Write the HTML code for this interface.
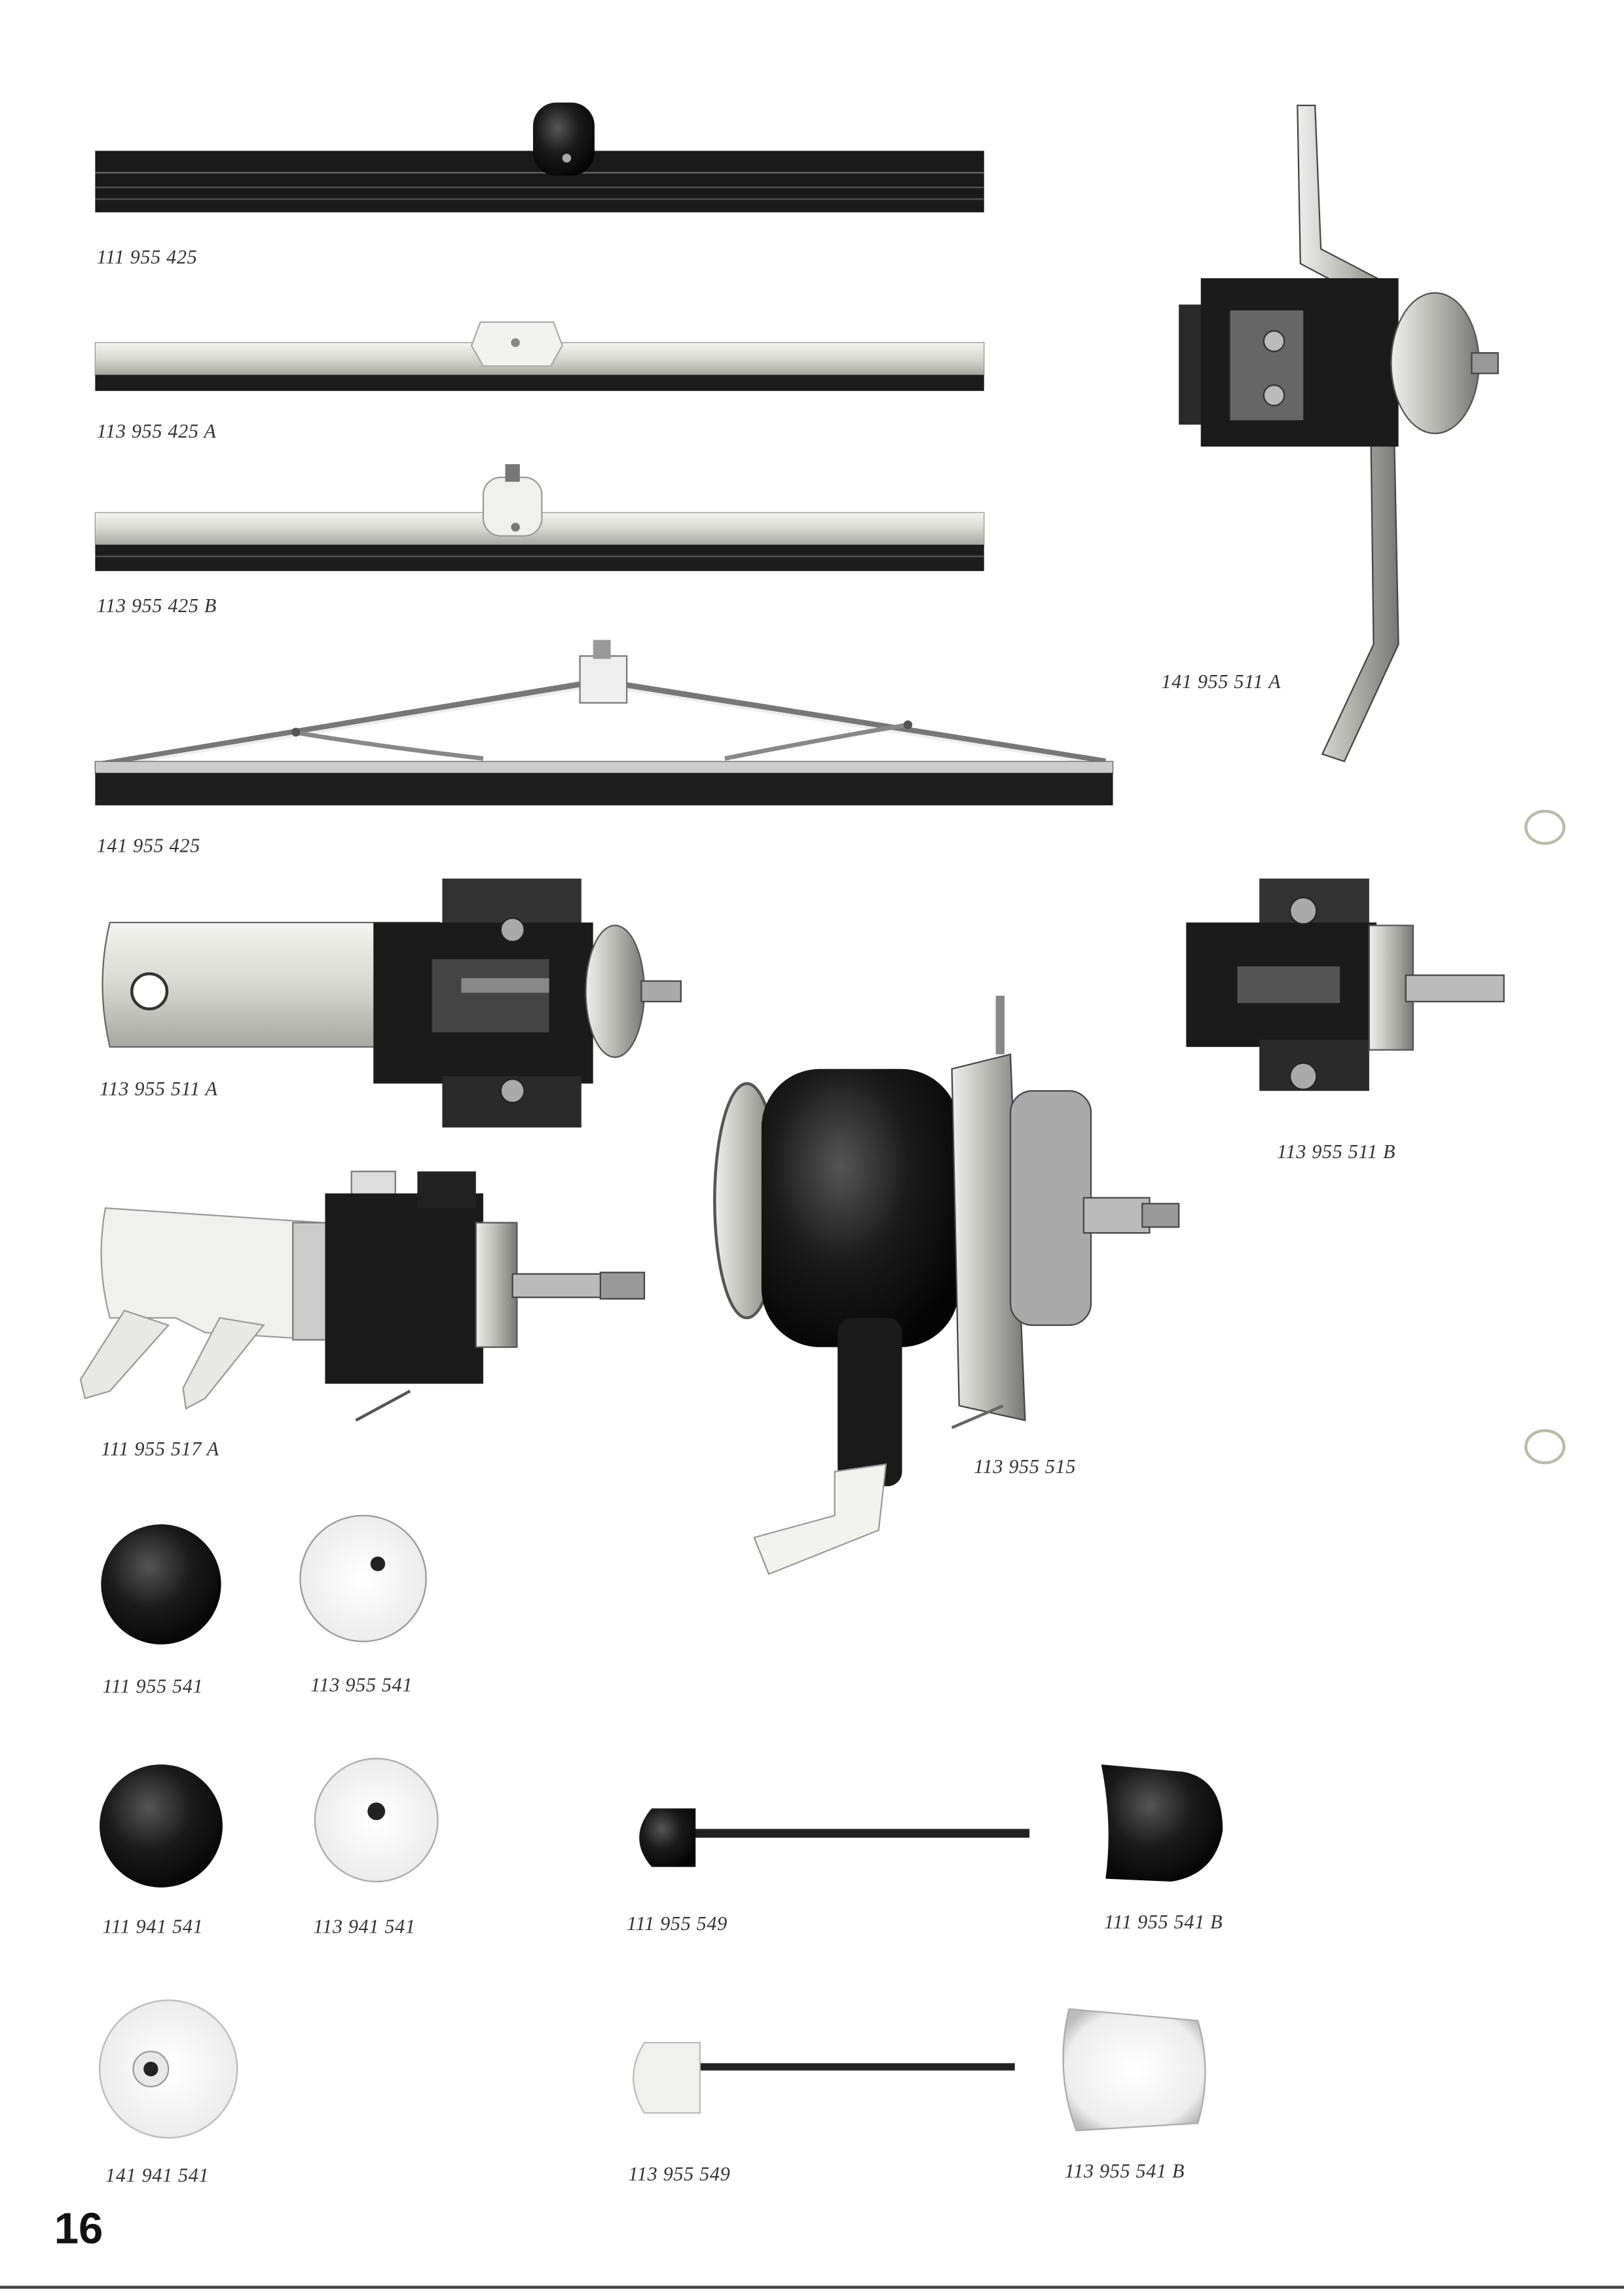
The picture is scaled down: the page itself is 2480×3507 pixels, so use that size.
<!DOCTYPE html>
<html><head><meta charset="utf-8">
<style>
html,body{margin:0;padding:0;background:#fff;}
svg{display:block;}
text.l{font-family:"Liberation Serif",serif;font-style:italic;font-size:13.5px;fill:#333;letter-spacing:0.3px;}
</style></head>
<body>
<svg width="2480" height="3507" viewBox="0 0 1109 1568" preserveAspectRatio="none" xmlns="http://www.w3.org/2000/svg">
<defs>
<linearGradient id="metal" x1="0" y1="0" x2="0" y2="1"><stop offset="0" stop-color="#f4f4f0"/><stop offset="0.5" stop-color="#d8d8d2"/><stop offset="1" stop-color="#a8a8a2"/></linearGradient>
<linearGradient id="metalh" x1="0" y1="0" x2="1" y2="0"><stop offset="0" stop-color="#eee"/><stop offset="0.5" stop-color="#b8b8b2"/><stop offset="1" stop-color="#777"/></linearGradient>
<radialGradient id="dk" cx="0.4" cy="0.35" r="0.7"><stop offset="0" stop-color="#555"/><stop offset="0.5" stop-color="#1a1a1a"/><stop offset="1" stop-color="#050505"/></radialGradient>
<radialGradient id="lt" cx="0.5" cy="0.5" r="0.6"><stop offset="0" stop-color="#fff"/><stop offset="0.8" stop-color="#eee"/><stop offset="1" stop-color="#bbb"/></radialGradient>
</defs>
<rect width="1109" height="1568" fill="#fff"/>
<line x1="0" y1="1562" x2="1109" y2="1562" stroke="#444" stroke-width="2"/>
<!-- punch holes -->
<ellipse cx="1055" cy="565" rx="13" ry="11" fill="#fff" stroke="#bba" stroke-width="2"/>
<ellipse cx="1055" cy="988" rx="13" ry="11" fill="#fff" stroke="#bba" stroke-width="2"/>

<!-- wiper 1 -->
<rect x="65" y="103" width="607" height="42" fill="#1a1a1a"/>
<line x1="65" y1="118" x2="672" y2="118" stroke="#666" stroke-width="1"/>
<line x1="65" y1="128" x2="672" y2="128" stroke="#555" stroke-width="1"/>
<line x1="65" y1="136" x2="672" y2="136" stroke="#555" stroke-width="1"/>
<rect x="364" y="70" width="42" height="50" rx="16" fill="url(#dk)"/>
<circle cx="387" cy="108" r="3" fill="#aaa"/>
<text class="l" x="66" y="180">111 955 425</text>

<!-- wiper 2 -->
<rect x="65" y="234" width="607" height="22" fill="url(#metal)" stroke="#999" stroke-width="0.6"/>
<rect x="65" y="256" width="607" height="11" fill="#1c1c1c"/>
<path d="M328 220 L378 220 L384 236 L376 250 L330 250 L322 236 Z" fill="#f2f2ee" stroke="#aaa"/>
<circle cx="352" cy="234" r="3" fill="#888"/>
<text class="l" x="66" y="299">113 955 425 A</text>

<!-- wiper 3 -->
<rect x="65" y="350" width="607" height="22" fill="url(#metal)" stroke="#999" stroke-width="0.6"/>
<rect x="65" y="372" width="607" height="18" fill="#1c1c1c"/>
<line x1="65" y1="380" x2="672" y2="380" stroke="#555"/>
<rect x="330" y="326" width="40" height="40" rx="12" fill="#f0f0ec" stroke="#999"/>
<rect x="345" y="317" width="10" height="12" fill="#777"/>
<circle cx="352" cy="360" r="3" fill="#777"/>
<text class="l" x="66" y="418">113 955 425 B</text>

<!-- wiper 4 -->
<path d="M68 522 L410 465 L755 520" fill="none" stroke="#777" stroke-width="4"/>
<path d="M70 524 L410 468 L752 522" fill="none" stroke="#eee" stroke-width="2"/>
<path d="M200 500 Q260 510 330 518 M495 518 Q560 505 620 495" fill="none" stroke="#888" stroke-width="3"/>
<circle cx="202" cy="500" r="3" fill="#555"/><circle cx="620" cy="495" r="3" fill="#555"/>
<rect x="65" y="520" width="695" height="8" fill="#ccc" stroke="#666" stroke-width="0.6"/>
<rect x="65" y="528" width="695" height="22" fill="#1e1e1e"/>
<rect x="396" y="448" width="32" height="32" fill="#eee" stroke="#777"/>
<rect x="405" y="437" width="12" height="13" fill="#999"/>
<text class="l" x="66" y="582">141 955 425</text>

<!-- 141 955 511 A -->
<path d="M886 72 L898 72 L902 170 L950 195 L955 440 L918 520 L903 515 L938 440 L935 205 L888 180 Z" fill="url(#metalh)" stroke="#444" stroke-width="1"/>
<rect x="805" y="208" width="30" height="82" fill="#2a2a2a"/>
<rect x="820" y="190" width="135" height="115" fill="#1b1b1b"/>
<rect x="840" y="212" width="50" height="75" fill="#666"/>
<circle cx="870" cy="233" r="7" fill="#bbb" stroke="#333"/><circle cx="870" cy="270" r="7" fill="#bbb" stroke="#333"/>
<ellipse cx="980" cy="248" rx="30" ry="48" fill="url(#metalh)" stroke="#555"/>
<rect x="1005" y="241" width="18" height="14" fill="#999" stroke="#444"/>
<text class="l" x="793" y="470">141 955 511 A</text>

<!-- 113 955 511 A -->
<path d="M75 630 L300 630 L300 715 L75 715 Q65 672 75 630 Z" fill="url(#metal)" stroke="#666"/>
<circle cx="102" cy="677" r="12" fill="#fff" stroke="#333" stroke-width="2"/>
<rect x="302" y="600" width="95" height="40" fill="#333"/>
<rect x="255" y="630" width="150" height="110" fill="#1b1b1b"/>
<rect x="302" y="735" width="95" height="35" fill="#2a2a2a"/>
<rect x="295" y="655" width="80" height="50" fill="#444"/>
<rect x="315" y="668" width="60" height="10" fill="#888"/>
<circle cx="350" cy="635" r="8" fill="#aaa" stroke="#222"/><circle cx="350" cy="745" r="8" fill="#aaa" stroke="#222"/>
<ellipse cx="420" cy="677" rx="20" ry="45" fill="url(#metalh)" stroke="#555"/>
<rect x="438" y="670" width="27" height="14" fill="#aaa" stroke="#444"/>
<text class="l" x="68" y="748">113 955 511 A</text>

<!-- 113 955 511 B -->
<rect x="860" y="600" width="75" height="40" fill="#333"/>
<rect x="810" y="630" width="130" height="85" fill="#1b1b1b"/>
<rect x="860" y="710" width="75" height="35" fill="#2a2a2a"/>
<rect x="845" y="660" width="70" height="25" fill="#555"/>
<circle cx="890" cy="622" r="9" fill="#aaa" stroke="#222"/><circle cx="890" cy="735" r="9" fill="#aaa" stroke="#222"/>
<rect x="935" y="632" width="30" height="85" fill="url(#metalh)" stroke="#555"/>
<rect x="960" y="666" width="67" height="18" fill="#bbb" stroke="#444"/>
<text class="l" x="872" y="791">113 955 511 B</text>

<!-- 111 955 517 A -->
<path d="M72 825 L220 835 L220 915 L140 910 L120 900 L75 900 Q65 862 72 825 Z" fill="#f0f0ec" stroke="#999"/>
<path d="M85 895 L115 905 L75 950 L58 955 L55 942 Z" fill="#e8e8e4" stroke="#999"/>
<path d="M150 900 L180 905 L140 955 L127 962 L125 948 Z" fill="#e8e8e4" stroke="#999"/>
<rect x="200" y="835" width="25" height="80" fill="#ccc" stroke="#777"/>
<rect x="240" y="800" width="30" height="40" fill="#ddd" stroke="#777"/>
<rect x="222" y="815" width="108" height="130" fill="#1b1b1b"/>
<rect x="285" y="800" width="40" height="25" fill="#222"/>
<rect x="325" y="835" width="28" height="85" fill="url(#metalh)" stroke="#555"/>
<rect x="350" y="870" width="65" height="16" fill="#bbb" stroke="#444"/>
<rect x="410" y="869" width="30" height="18" fill="#999" stroke="#444"/>
<line x1="243" y1="970" x2="280" y2="950" stroke="#555" stroke-width="2"/>
<text class="l" x="69" y="994">111 955 517 A</text>

<!-- 113 955 515 -->
<rect x="680" y="680" width="6" height="40" fill="#888"/>
<ellipse cx="510" cy="820" rx="22" ry="80" fill="url(#metalh)" stroke="#555" stroke-width="2"/>
<rect x="520" y="730" width="135" height="190" rx="40" fill="url(#dk)"/>
<path d="M650 730 L690 720 L700 970 L655 960 Z" fill="url(#metalh)" stroke="#444"/>
<rect x="690" y="745" width="55" height="160" rx="15" fill="#aaa" stroke="#444"/>
<rect x="740" y="818" width="45" height="24" fill="#bbb" stroke="#444"/>
<rect x="780" y="822" width="25" height="16" fill="#999" stroke="#444"/>
<rect x="572" y="900" width="44" height="115" rx="10" fill="#1a1a1a"/>
<path d="M570 1005 L605 1000 L600 1045 L525 1075 L515 1050 L570 1035 Z" fill="#f2f2ee" stroke="#999"/>
<line x1="650" y1="975" x2="685" y2="960" stroke="#666" stroke-width="2"/>
<text class="l" x="665" y="1006">113 955 515</text>

<!-- caps -->
<circle cx="110" cy="1082" r="41" fill="url(#dk)"/>
<circle cx="248" cy="1078" r="43" fill="url(#lt)" stroke="#999"/>
<circle cx="258" cy="1068" r="5" fill="#222"/>
<text class="l" x="70" y="1156">111 955 541</text>
<text class="l" x="212" y="1155">113 955 541</text>

<circle cx="110" cy="1247" r="42" fill="url(#dk)"/>
<circle cx="257" cy="1243" r="42" fill="url(#lt)" stroke="#aaa"/>
<circle cx="257" cy="1237" r="6" fill="#222"/>
<text class="l" x="70" y="1320">111 941 541</text>
<text class="l" x="214" y="1320">113 941 541</text>

<circle cx="115" cy="1413" r="47" fill="url(#lt)" stroke="#bbb"/>
<circle cx="103" cy="1413" r="12" fill="#e8e8e8" stroke="#999"/>
<circle cx="103" cy="1413" r="5" fill="#222"/>
<text class="l" x="72" y="1490">141 941 541</text>

<!-- rods -->
<rect x="465" y="1249" width="238" height="6" fill="#222"/>
<path d="M475 1235 L445 1235 Q428 1255 445 1275 L475 1275 Z" fill="url(#dk)"/>
<text class="l" x="428" y="1318">111 955 549</text>
<path d="M752 1205 L808 1210 Q835 1215 835 1250 Q830 1280 800 1285 L755 1283 Q760 1245 752 1205 Z" fill="url(#dk)"/>
<text class="l" x="754" y="1317">111 955 541 B</text>

<rect x="470" y="1409" width="223" height="5" fill="#222"/>
<path d="M478 1395 L440 1395 Q425 1419 440 1443 L478 1443 Z" fill="#f0f0ec" stroke="#bbb"/>
<text class="l" x="429" y="1489">113 955 549</text>
<path d="M730 1372 L818 1380 Q828 1415 818 1450 L735 1455 Q720 1415 730 1372 Z" fill="url(#lt)" stroke="#aaa"/>
<text class="l" x="727" y="1487">113 955 541 B</text>

<text x="37" y="1532" font-family="Liberation Sans, sans-serif" font-weight="bold" font-size="30" fill="#111">16</text>
</svg>
</body></html>
